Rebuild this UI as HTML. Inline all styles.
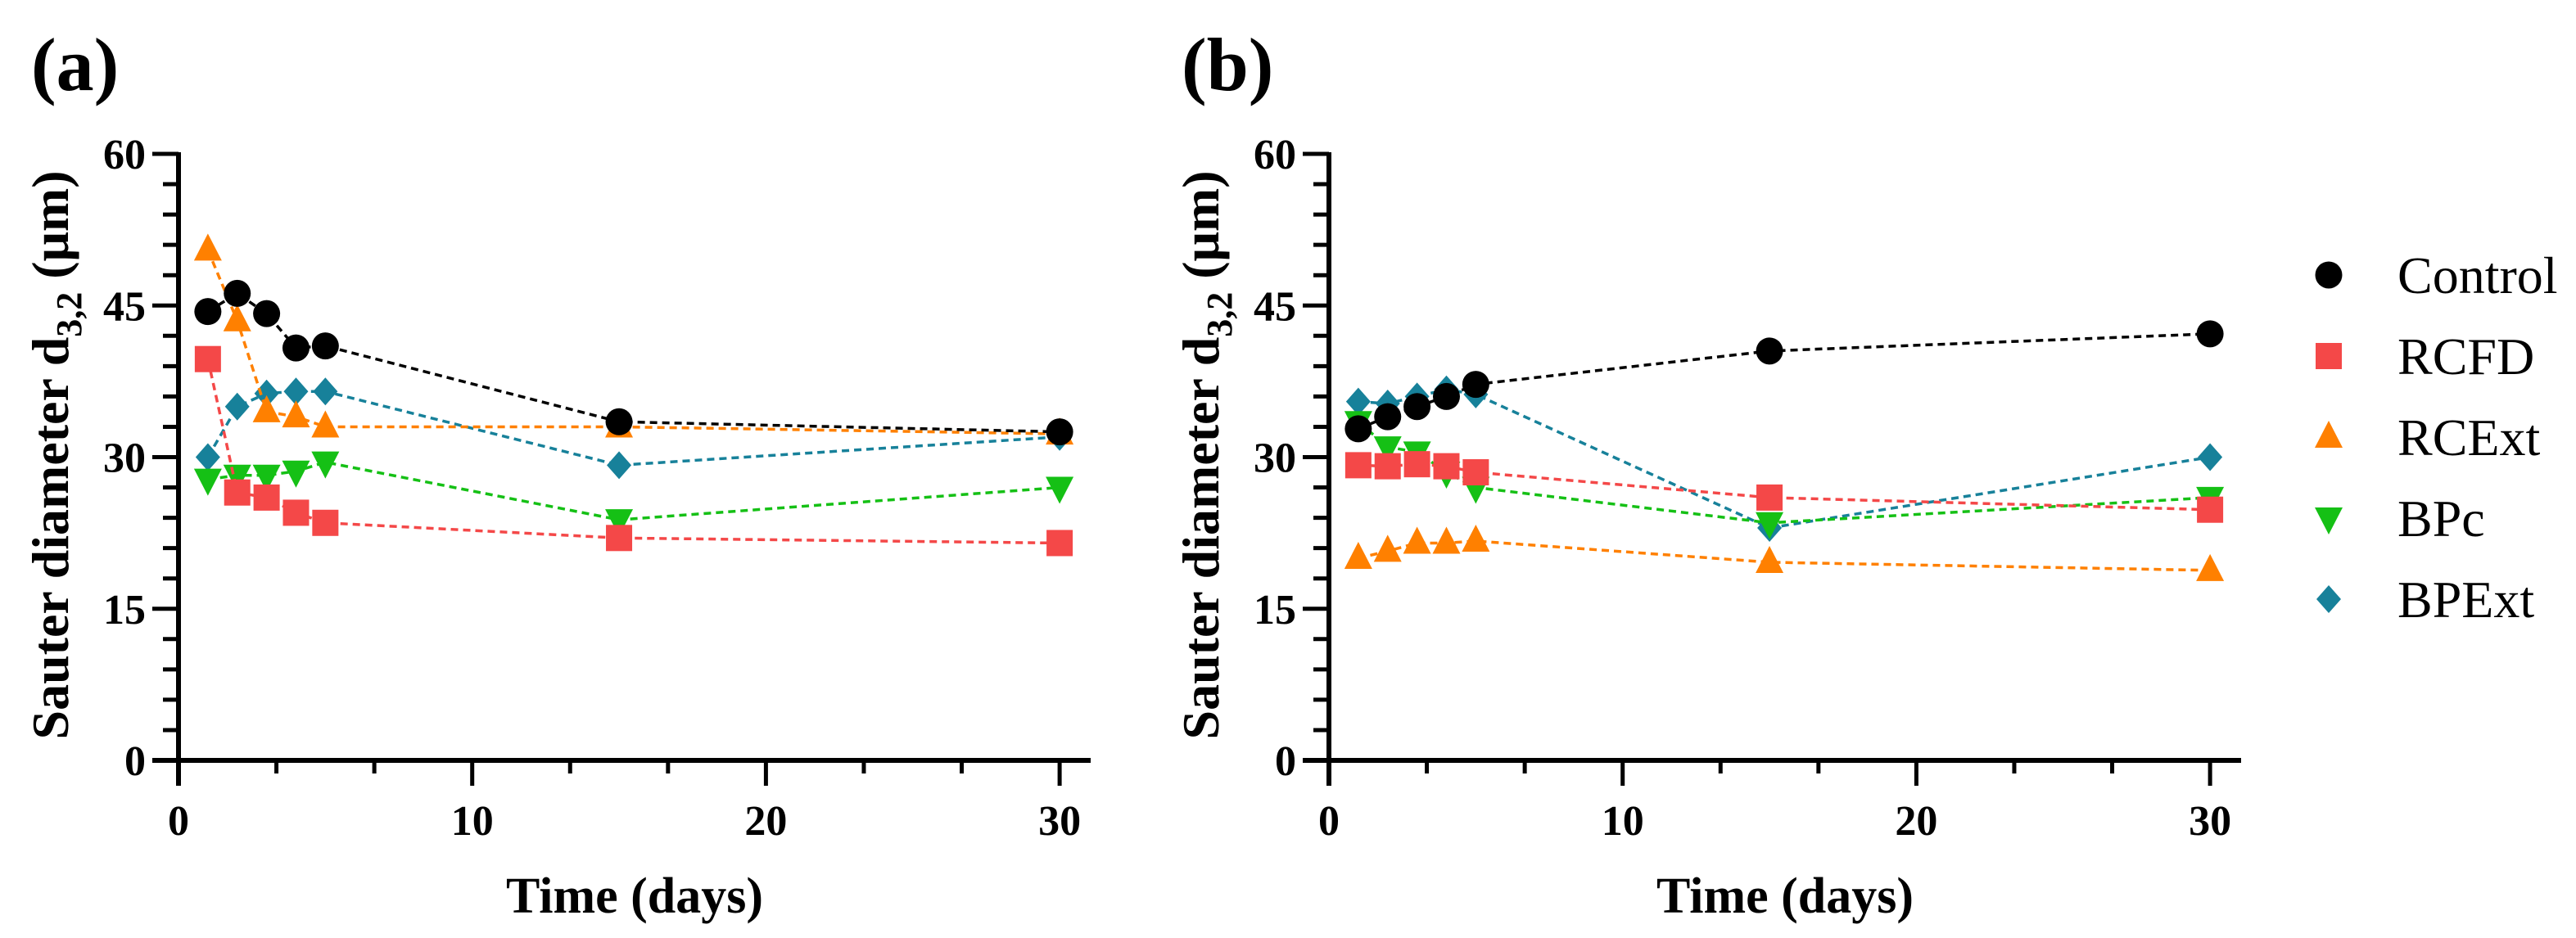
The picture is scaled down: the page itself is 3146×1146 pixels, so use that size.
<!DOCTYPE html>
<html><head><meta charset="utf-8">
<style>
html,body{margin:0;padding:0;background:#fff;}
svg{display:block;}
text{font-family:"Liberation Serif",serif;}
</style></head>
<body>
<svg id="chart" width="3146" height="1146" viewBox="0 0 3146 1146" xmlns="http://www.w3.org/2000/svg">
<rect width="3146" height="1146" fill="#fff"/>
<g id="root"></g>
</svg>
<script>
const days = [1, 2, 3, 4, 5, 15, 30];
const seriesNames = ["Control", "RCFD", "RCExt", "BPc", "BPExt"];
const panelAControl = [44.4, 46.2, 44.2, 40.8, 41.0, 33.5, 32.5];
const panelARCFD = [39.7, 26.5, 26.0, 24.5, 23.5, 22.0, 21.5];
const panelARCExt = [50.5, 43.5, 34.5, 34.0, 33.0, 33.0, 32.3];
const panelABPc = [27.8, 28.2, 28.2, 28.6, 29.5, 23.8, 27.0];
const panelABPExt = [30.0, 35.0, 36.3, 36.5, 36.5, 29.2, 32.0];
const panelBControl = [32.8, 34.0, 35.0, 36.0, 37.2, 40.5, 42.2];
const panelBRCFD = [29.2, 29.1, 29.3, 29.1, 28.5, 26.0, 24.8];
const panelBRCExt = [20.0, 20.7, 21.5, 21.5, 21.7, 19.6, 18.8];
const panelBBPc = [33.5, 31.0, 30.5, 28.5, 27.0, 23.5, 26.0];
const panelBBPExt = [35.5, 35.3, 36.0, 36.7, 36.2, 23.0, 30.0];
const yTickLabels = [0, 15, 30, 45, 60];
const xTickLabels = [0, 10, 20, 30];

const NS = "http://www.w3.org/2000/svg";
const root = document.getElementById('root');
const colors = ["#000000", "#f44848", "#ff8000", "#15c015", "#17819a"];
const shapes = ["circle", "square", "tri-up", "tri-down", "diamond"];

function mk(tag, attrs, parent) {
  const e = document.createElementNS(NS, tag);
  for (const k in attrs) e.setAttribute(k, attrs[k]);
  (parent || root).appendChild(e);
  return e;
}

function marker(g, shape, cx, cy, col) {
  let e;
  if (shape === "circle") e = mk("circle", {cx: cx, cy: cy, r: 16.5, fill: col}, g);
  else if (shape === "square") e = mk("rect", {x: cx - 16, y: cy - 16, width: 32, height: 32, fill: col}, g);
  else if (shape === "tri-up") e = mk("polygon", {points: `${cx},${cy-20} ${cx+17},${cy+13} ${cx-17},${cy+13}`, fill: col}, g);
  else if (shape === "tri-down") e = mk("polygon", {points: `${cx},${cy+20} ${cx+17},${cy-13} ${cx-17},${cy-13}`, fill: col}, g);
  else e = mk("polygon", {points: `${cx},${cy-17} ${cx+15},${cy} ${cx},${cy+17} ${cx-15},${cy}`, fill: col}, g);
  return e;
}

function panel(id, ox, data, label) {
  const g = mk("g", {});
  
  
  const y0 = 929, y60 = 188;
  const xs = v => ox + v * 35.87;
  const ys = v => y0 - (v / 60) * (y0 - y60);
  const xEnd = ox + 1114;
  const pl = mk("text", {x: ox - 180, y: 110, "font-size": 92, "font-weight": "bold"}, g);
  pl.textContent = label;
  
  
  const ya = mk("g", {}, g);
  
  
  mk("line", {x1: ox, y1: y60 - 2, x2: ox, y2: 960, stroke: "#000", "stroke-width": 6}, ya);
  for (let v = 0; v <= 60; v += 3) {
    const major = v % 15 === 0;
    mk("line", {x1: ox - (major ? 32 : 19), y1: ys(v), x2: ox, y2: ys(v), stroke: "#000", "stroke-width": 5}, ya);
  }
  yTickLabels.forEach(v => {
    const t = mk("text", {x: ox - 40, y: ys(v) + 18, "font-size": 52, "font-weight": "bold", "text-anchor": "end"}, ya);
    t.textContent = v;
    
    
  });
  const xa = mk("g", {}, g);
  
  
  mk("line", {x1: ox - 32, y1: y0, x2: xEnd, y2: y0, stroke: "#000", "stroke-width": 6}, xa);
  for (let i = 1; i <= 9; i++) {
    const v = i * 10 / 3;
    const major = i % 3 === 0;
    mk("line", {x1: xs(v), y1: y0, x2: xs(v), y2: y0 + (major ? 31 : 16), stroke: "#000", "stroke-width": 5}, xa);
  }
  xTickLabels.forEach(v => {
    const t = mk("text", {x: xs(v), y: 1020, "font-size": 52, "font-weight": "bold", "text-anchor": "middle"}, xa);
    t.textContent = v;
    
    
  });
  const xt = mk("text", {x: (ox + xEnd) / 2, y: 1115, "font-size": 62, "font-weight": "bold", "text-anchor": "middle"}, g);
  xt.textContent = "Time (days)";
  
  
  const yt = mk("text", {x: 0, y: 0, "font-size": 64, "font-weight": "bold", "text-anchor": "middle", transform: `translate(${ox - 135},556) rotate(-90)`}, g);
  yt.innerHTML = 'Sauter diameter d<tspan font-size="44" dy="16">3,2</tspan><tspan dy="-16"> (μm)</tspan>';
  
  
  for (let s = data.length - 1; s >= 0; s--) {
    const sg = mk("g", {}, g);
    
    
    const pts = days.map((d, i) => xs(d) + "," + ys(data[s][i])).join(" ");
    mk("polyline", {points: pts, fill: "none", stroke: colors[s], "stroke-width": 3.5, "stroke-dasharray": "9,6"}, sg);
    days.forEach((d, i) => {
      const m = marker(sg, shapes[s], xs(d), ys(data[s][i]), colors[s]);
      
      
    });
  }
}

panel('a', 218, [panelAControl, panelARCFD, panelARCExt, panelABPc, panelABPExt], '(a)');
panel('b', 1623, [panelBControl, panelBRCFD, panelBRCExt, panelBBPc, panelBBPExt], '(b)');

const lg = mk("g", {});


seriesNames.forEach((n, i) => {
  const eg = mk("g", {}, lg);
  
  
  const cy = 336 + i * 99;
  marker(eg, shapes[i], 2844, cy, colors[i]);
  const t = mk("text", {x: 2928, y: cy + 22, "font-size": 64}, eg);
  t.textContent = n;
});
</script>
</body></html>
